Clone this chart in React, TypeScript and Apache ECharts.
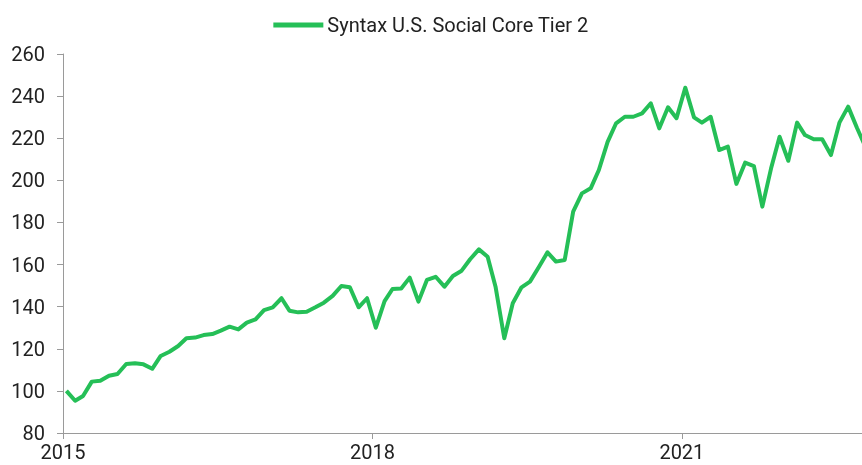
import React, { useEffect, useRef } from "react";
import * as echarts from "echarts";

const seriesName = "Syntax U.S. Social Core Tier 2";
const startYear = 2015;
const yearTickLabels = ["2015", "2018", "2021"];
const yTicks = [80, 100, 120, 140, 160, 180, 200, 220, 240, 260];

// Monthly index values, Jan 2015 .. Oct 2022
const values2015 = [100, 95.3, 97.6, 104.4, 104.8, 107.2, 108, 112.8, 113.1, 112.6, 110.5, 116.6];
const values2016 = [118.6, 121.3, 125, 125.3, 126.5, 127, 128.6, 130.5, 129.2, 132.4, 134, 138.4];
const values2017 = [139.7, 144, 138.1, 137.3, 137.6, 139.7, 141.9, 145.1, 149.8, 149.2, 139.7, 144];
const values2018 = [130, 142.6, 148.4, 148.6, 153.8, 142.4, 152.7, 154.2, 149.5, 154.6, 157.1, 162.5];
const values2019 = [167.2, 163.7, 149.5, 125, 141.6, 149.2, 151.9, 158.7, 165.8, 161.4, 162.2, 185.1];
const values2020 = [193.8, 196.2, 204.9, 218.3, 227.1, 230.2, 230.2, 231.8, 236.6, 224.7, 234.7, 229.5];
const values2021 = [244, 229.9, 227.4, 230.2, 214.4, 216, 198.3, 208.4, 206.8, 187.5, 205.7, 220.7];
const values2022 = [209.3, 227.4, 221.5, 219.5, 219.5, 212, 227.4, 235, 225, 216];

const yearlyValues = [values2015, values2016, values2017, values2018, values2019, values2020, values2021, values2022];

const DAY = 86400000;
const origin = Date.UTC(startYear, 0, 1);
const toDays = (y: number, m: number, d: number) => (Date.UTC(y, m, d) - origin) / DAY;

export default function App() {
  const ref = useRef<HTMLDivElement>(null);
  useEffect(() => {
    if (!ref.current) return;
    const chart = echarts.init(ref.current, undefined, { renderer: "svg" });
    const data: [number, number][] = [];
    yearlyValues.forEach((arr, yi) => {
      arr.forEach((v, mi) => {
        data.push([toDays(startYear + yi, mi, 13), v]);
      });
    });
    const tickDays = yearTickLabels.map((y) => toDays(Number(y), 0, 1));
    const maxDays = toDays(2022, 9, 1);
    const axisColor = "#9a9a9a";
    const font = "Roboto, 'Noto Sans', sans-serif";
    chart.setOption({
      animation: false,
      textStyle: { fontFamily: font },
      legend: {
        top: 10,
        left: "center",
        icon: "rect",
        itemWidth: 50,
        itemHeight: 5,
        itemGap: 10,
        textStyle: { fontSize: 20, color: "#222", fontFamily: font, padding: [0, 0, 0, -1] },
        data: [seriesName],
      },
      grid: { left: 63, right: 0, top: 54, bottom: 32, containLabel: false },
      xAxis: {
        type: "value",
        min: 0,
        max: maxDays,
        splitLine: { show: false },
        axisLine: { show: true, lineStyle: { color: axisColor, width: 1 } },
        axisTick: { show: true, length: 6, lineStyle: { color: axisColor }, customValues: tickDays },
        axisLabel: {
          customValues: tickDays,
          fontSize: 20,
          color: "#222",
          margin: 9,
          fontFamily: font,
          formatter: (v: number) => String(startYear + Math.round(v / 365.25)),
        },
      },
      yAxis: {
        type: "value",
        min: 80,
        max: 260,
        interval: 20,
        splitLine: { show: false },
        axisLine: { show: true, lineStyle: { color: axisColor, width: 1 } },
        axisTick: { show: true, length: 6, lineStyle: { color: axisColor } },
        axisLabel: {
          fontSize: 20,
          color: "#222",
          margin: 18,
          fontFamily: font,
          formatter: (v: number) => (yTicks.includes(v) ? String(v) : ""),
        },
      },
      series: [
        {
          name: seriesName,
          type: "line",
          data,
          showSymbol: false,
          symbol: "none",
          clip: true,
          lineStyle: { color: "#25BF57", width: 4, join: "round" },
          itemStyle: { color: "#25BF57" },
        },
      ],
    });
    return () => chart.dispose();
  }, []);
  return (
    <div
      ref={ref}
      style={{ position: "fixed", left: 0, top: 0, width: 862, height: 465 }}
    />
  );
}
